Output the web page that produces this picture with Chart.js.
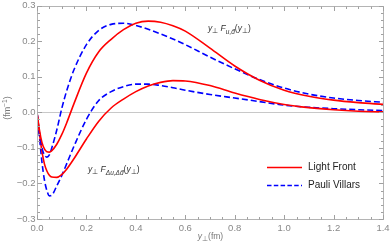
<!DOCTYPE html>
<html><head><meta charset="utf-8">
<script src="https://cdn.jsdelivr.net/npm/chart.js@4"></script>
<style>html,body{margin:0;padding:0;background:#fff}canvas{display:block}</style>
</head><body>
<canvas id="c" width="391" height="250"></canvas>
<script>
const xValues = [0,0.01,0.02,0.03,0.04,0.05,0.06,0.08,0.1,0.12,0.15,0.2,0.25,0.3,0.35,0.4,0.45,0.5,0.55,0.6,0.7,0.8,0.9,1.0,1.1,1.2,1.3,1.4];
const lfU = [0,-0.05,-0.085,-0.103,-0.111,-0.112,-0.108,-0.09,-0.063,-0.03,0.025,0.11,0.17,0.205,0.232,0.25,0.256,0.253,0.243,0.228,0.18,0.13,0.09,0.062,0.045,0.034,0.027,0.022];
const pvU = [0,-0.06,-0.1,-0.12,-0.126,-0.12,-0.1,-0.05,0.01,0.06,0.12,0.19,0.23,0.247,0.25,0.244,0.233,0.22,0.206,0.19,0.155,0.122,0.092,0.068,0.051,0.04,0.033,0.028];
const lfDelta = [0,-0.06,-0.11,-0.145,-0.165,-0.177,-0.182,-0.183,-0.175,-0.16,-0.13,-0.075,-0.025,0.012,0.037,0.058,0.074,0.084,0.089,0.088,0.075,0.054,0.036,0.022,0.013,0.007,0.003,0.001];
const pvDelta = [0,-0.07,-0.14,-0.19,-0.22,-0.235,-0.233,-0.207,-0.178,-0.145,-0.095,-0.02,0.033,0.058,0.072,0.079,0.079,0.075,0.069,0.062,0.05,0.04,0.03,0.02,0.014,0.01,0.007,0.005];
const xTicks = [0,0.2,0.4,0.6,0.8,1.0,1.2,1.4];
const yTicks = [-0.3,-0.2,-0.1,0,0.1,0.2,0.3];
const seriesNames = ['Light Front','Pauli Villars'];

const RED = '#ff0000', BLUE = '#0000ff';
const FONT = '"Liberation Sans", Arial, sans-serif';
const pts = arr => arr.map((v,i)=>({x:xValues[i], y:v}));
function ds(label, data, color, dashed, legend){
  return {label, data:pts(data), borderColor:color, backgroundColor:color, borderWidth:1.6,
    borderDash: dashed?[6,3]:[], pointRadius:0, fill:false, cubicInterpolationMode:'monotone', showInLegend:legend};
}

const fmt = v => { const r = Math.round(v*10)/10; return (r<0?'\u2212':'') + Math.abs(r).toFixed(1); };

function richWidth(ctx, parts){
  let w=0;
  for (const [t, st, sz] of parts){ ctx.font = `${st} ${sz}px ${FONT}`; w += ctx.measureText(t).width; }
  return w;
}
function drawRich(ctx, parts, x, y){
  let cx = x;
  for (const [t, st, sz, dy] of parts){
    ctx.font = `${st} ${sz}px ${FONT}`;
    ctx.fillText(t, cx, y+dy);
    cx += ctx.measureText(t).width;
  }
}

const framePlugin = {
  id:'frame',
  beforeDatasetsDraw(chart){
    const {ctx, chartArea:a, scales:{x,y}} = chart;
    ctx.save();
    ctx.strokeStyle = '#c8c8c8'; ctx.lineWidth = 1;
    const y0 = Math.round(y.getPixelForValue(0))+0.5;
    ctx.beginPath(); ctx.moveTo(a.left,y0); ctx.lineTo(a.right,y0); ctx.stroke();
    ctx.restore();
  },
  afterDatasetsDraw(chart){
    const {ctx, chartArea:a, scales:{x,y}} = chart;
    ctx.save();
    ctx.strokeStyle = '#b4b4b4'; ctx.lineWidth = 1;
    const L = Math.round(a.left)+0.5, R = Math.round(a.right)+0.5, T = Math.round(a.top)+0.5, B = Math.round(a.bottom)+0.5;
    ctx.beginPath(); ctx.rect(L,T,R-L,B-T); ctx.stroke();
    ctx.strokeStyle = '#a0a0a0';
    ctx.beginPath();
    for (let i=-15;i<=15;i++){
      const p = Math.round(y.getPixelForValue(i*0.02))+0.5;
      const len = (i%5===0)?4.5:2.5;
      ctx.moveTo(L,p); ctx.lineTo(L+len,p);
      ctx.moveTo(R,p); ctx.lineTo(R-len,p);
    }
    for (let i=0;i<=28;i++){
      const p = Math.round(x.getPixelForValue(i*0.05))+0.5;
      const len = (i%4===0)?4.5:2.5;
      ctx.moveTo(p,B); ctx.lineTo(p,B-len);
      ctx.moveTo(p,T); ctx.lineTo(p,T+len);
    }
    ctx.stroke();

    // tick labels from the library's scales
    ctx.fillStyle = '#888';
    ctx.font = `9.5px ${FONT}`;
    ctx.textAlign = 'right'; ctx.textBaseline = 'middle';
    y.ticks.forEach(t => ctx.fillText(fmt(t.value), L-2, y.getPixelForValue(t.value)));
    ctx.textAlign = 'center';
    x.ticks.forEach(t => ctx.fillText(fmt(t.value), x.getPixelForValue(t.value), 228));
    ctx.textAlign = 'left';

    // annotations
    ctx.fillStyle = '#333'; ctx.textBaseline = 'alphabetic';
    const M = 8.5, S = 6.5;
    drawRich(ctx, [['y','italic',M,0],['\u22a5','normal',S,2],[' ','normal',M,0],['F','italic',M,0],['u,d\u0304','italic',S,2.5],['(','normal',M,0],['y','italic',M,0],['\u22a5','normal',S,2],[')','normal',M,0]], 208, 31);
    drawRich(ctx, [['y','italic',M,0],['\u22a5','normal',S,2],[' ','normal',M,0],['F','italic',M,0],['\u0394u,\u0394d\u0304','italic',S,2.5],['(','normal',M,0],['y','italic',M,0],['\u22a5','normal',S,2],[')','normal',M,0]], 88, 172);

    // legend
    chart.data.datasets.filter(d=>d.showInLegend).forEach((d,i)=>{
      const ly = 167.5 + i*18;
      ctx.strokeStyle = d.borderColor; ctx.lineWidth = 1.6;
      ctx.setLineDash(d.borderDash.length?[4.5,2.3]:[]);
      ctx.beginPath(); ctx.moveTo(267,ly); ctx.lineTo(302,ly); ctx.stroke();
      ctx.setLineDash([]);
      ctx.fillStyle = '#222'; ctx.textBaseline='middle';
      ctx.font = `10px ${FONT}`;
      ctx.fillText(d.label, 308, ly);
    });

    // axis titles
    ctx.fillStyle = '#777'; ctx.textBaseline='middle';
    const xt = [['y','italic',8.5,0],['\u22a5','normal',6.5,2],['(fm)','normal',8.5,0]];
    drawRich(ctx, xt, 210.5 - richWidth(ctx, xt)/2, 237);
    ctx.translate(8,108); ctx.rotate(-Math.PI/2);
    const yt = [['(fm','normal',9,0],['\u22121','normal',6.5,-3],[')','normal',9,0]];
    drawRich(ctx, yt, -richWidth(ctx, yt)/2, 0);
    ctx.restore();
  }
};

new Chart(document.getElementById('c'), {
  type:'line',
  data:{datasets:[
    ds(seriesNames[0]+' u', lfU, RED, false, false),
    ds(seriesNames[1]+' u', pvU, BLUE, true, false),
    ds(seriesNames[0], lfDelta, RED, false, true),
    ds(seriesNames[1], pvDelta, BLUE, true, true)
  ]},
  options:{
    responsive:false, animation:false, devicePixelRatio:1,
    layout:{padding:{left:0,right:8,top:5.5,bottom:0}},
    plugins:{legend:{display:false}, tooltip:{enabled:false}},
    scales:{
      x:{type:'linear', min:0, max:1.4,
        afterBuildTicks: s => { s.ticks = xTicks.map(v=>({value:v})); },
        afterFit: s => { s.height = 31; },
        grid:{display:false}, border:{display:false}, ticks:{display:false}},
      y:{type:'linear', min:-0.3, max:0.3,
        afterBuildTicks: s => { s.ticks = yTicks.map(v=>({value:v})); },
        afterFit: s => { s.width = 37; },
        grid:{display:false}, border:{display:false}, ticks:{display:false}}
    }
  },
  plugins:[framePlugin]
});
</script>
</body></html>
